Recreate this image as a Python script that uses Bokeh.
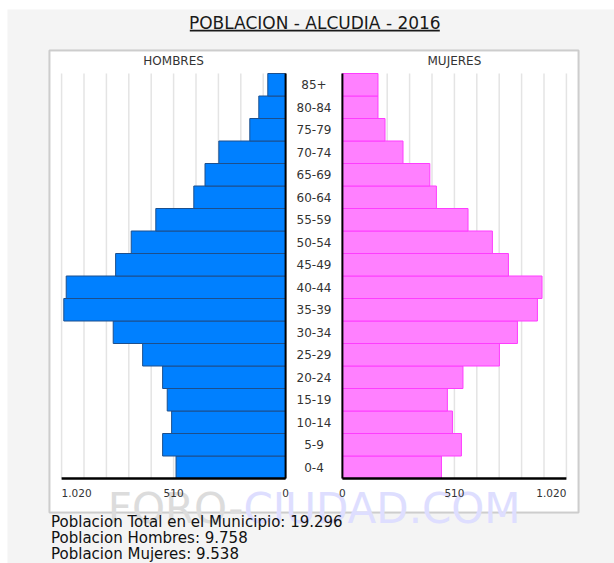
from bokeh.plotting import figure
from bokeh.models import ColumnDataSource, Range1d, Label, BoxAnnotation
from bokeh.core.properties import value
from bokeh.embed import file_html
from bokeh.resources import INLINE

# ---------------- data ----------------
age_groups = ["0-4", "5-9", "10-14", "15-19", "20-24", "25-29", "30-34", "35-39",
              "40-44", "45-49", "50-54", "55-59", "60-64", "65-69", "70-74",
              "75-79", "80-84", "85+"]
hombres = [499, 560, 519, 539, 560, 651, 785, 1010, 999, 774, 703, 591, 418, 367,
           304, 163, 122, 81]
mujeres = [451, 542, 501, 478, 549, 715, 797, 888, 909, 756, 683, 572, 428, 398,
           276, 194, 162, 162]
axis_max = 1020
tick_values = [1020, 510, 0]
tick_labels = ["1.020", "510", "0"]
grid_values = [102, 204, 306, 408, 510, 612, 714, 816, 918, 1020]
title_text = "POBLACION - ALCUDIA - 2016"
side_titles = ["HOMBRES", "MUJERES"]
footer_lines = ["Poblacion Total en el Municipio: 19.296",
                "Poblacion Hombres: 9.758",
                "Poblacion Mujeres: 9.538"]
watermark_parts = ["FORO-", "CIUDAD.COM"]

# ---------------- geometry (page pixels) ----------------
FIG_W, FIG_H = 614, 563
BOX_L, BOX_R, BOX_T, BOX_B = 49, 578, 50, 512
PX_PER_UNIT = 224.0 / axis_max
CENTER_PX = 313.5
HALF_GAP = 28.4 / PX_PER_UNIT
ROW_PX = 22.5
BARS_BOTTOM_PX = 478.0


def x_of(px):
    return (px - CENTER_PX) / PX_PER_UNIT


def y_of(py):
    return -0.5 - (py - BARS_BOTTOM_PX) / ROW_PX


FONT = "DejaVu Sans"

p = figure(width=FIG_W, height=FIG_H, title=None,
           x_range=Range1d(x_of(0), x_of(FIG_W)), y_range=Range1d(y_of(FIG_H), y_of(0)),
           output_backend="svg", toolbar_location=None,
           x_axis_location=None, y_axis_location=None,
           min_border_left=0, min_border_right=0, min_border_top=0, min_border_bottom=0)
p.xgrid.visible = False
p.ygrid.visible = False
p.background_fill_color = "white"
p.border_fill_color = "white"
p.outline_line_color = None

# page background and chart box
p.add_layout(BoxAnnotation(left=x_of(7), right=x_of(FIG_W + 5), top=y_of(9),
                           bottom=y_of(FIG_H + 5), fill_color="#f4f4f4", fill_alpha=1.0,
                           line_alpha=0, level="underlay"))
p.add_layout(BoxAnnotation(left=x_of(BOX_L), right=x_of(BOX_R), top=y_of(BOX_T),
                           bottom=y_of(BOX_B), fill_color="white", fill_alpha=1.0,
                           line_color="#666666", line_width=2, level="underlay"))

rows = list(range(len(age_groups)))
row_bottom = rows[0] - 0.5
row_top = rows[-1] + 0.5

# watermark
p.text(x=[x_of(243)], y=[y_of(508.3)], text=[watermark_parts[0]],
       text_align="right", text_baseline="alphabetic", text_color="#dcdcdc",
       text_font=value(FONT), text_font_size=value("42px"))
p.text(x=[x_of(243)], y=[y_of(508.3)], text=[watermark_parts[1]],
       text_align="left", text_baseline="alphabetic", text_color="#dedeff",
       text_font=value(FONT), text_font_size=value("42px"))

# grid lines
gx = [-(HALF_GAP + g) for g in grid_values] + [HALF_GAP + g for g in grid_values]
p.segment(x0=gx, x1=gx, y0=row_bottom, y1=row_top, line_color="#e4e4e4", line_width=1.5)

# bars
src = ColumnDataSource(dict(
    y=rows,
    h_left=[-(HALF_GAP + v) for v in hombres],
    m_right=[HALF_GAP + v for v in mujeres],
))
p.hbar(y="y", left="h_left", right=-HALF_GAP, height=1, source=src,
       fill_color="#0080ff", line_color="#1d4f8c", line_width=1)
p.hbar(y="y", left=HALF_GAP, right="m_right", height=1, source=src,
       fill_color="#ff80ff", line_color="#ff3cff", line_width=1)

# zero lines and baselines
p.segment(x0=[-HALF_GAP, HALF_GAP], x1=[-HALF_GAP, HALF_GAP],
          y0=row_bottom, y1=row_top, line_color="black", line_width=2)
p.segment(x0=[-(HALF_GAP + axis_max), HALF_GAP], x1=[-HALF_GAP, HALF_GAP + axis_max],
          y0=row_bottom, y1=row_bottom, line_color="black", line_width=2.5)

# age labels
p.text(x=0, y=rows, text=age_groups, text_align="center", text_baseline="middle",
       text_color="#333333", text_font=value(FONT), text_font_size=value("12px"))

# side titles
p.text(x=[-(HALF_GAP + axis_max / 2), HALF_GAP + axis_max / 2], y=[y_of(60.5)] * 2,
       text=side_titles, text_align="center", text_baseline="middle",
       text_color="#333333", text_font=value(FONT), text_font_size=value("12px"))

# tick labels
tick_src = ColumnDataSource(dict(
    x=[-(HALF_GAP + v) for v in tick_values] + [HALF_GAP + v for v in tick_values[::-1]],
    text=tick_labels + tick_labels[::-1],
    align=["left", "center", "center", "center", "center", "right"],
))
p.text(x="x", y=y_of(492.7), text="text", text_align="align", source=tick_src,
       text_baseline="middle", text_color="#333333", text_font=value(FONT),
       text_font_size=value("10.5px"))

# title with underline
p.add_layout(Label(x=x_of(314.3), y=y_of(22.5), text=title_text, text_align="center",
                   text_baseline="middle", text_color="#1a1a1a", text_font=FONT,
                   text_font_size="17px"))
p.add_layout(BoxAnnotation(left=x_of(189.3), right=x_of(439.3), top=y_of(29.2),
                           bottom=y_of(30.9), fill_color="#1a1a1a", fill_alpha=1.0,
                           line_alpha=0, level="annotation"))

# footer lines
for i, line in enumerate(footer_lines):
    p.add_layout(Label(x=x_of(50.5), y=y_of(521.2 + 16.2 * i), text=line,
                       text_align="left", text_baseline="middle", text_color="#111111",
                       text_font=FONT, text_font_size="15px"))

open("out.html", "w").write(file_html(p, INLINE))
